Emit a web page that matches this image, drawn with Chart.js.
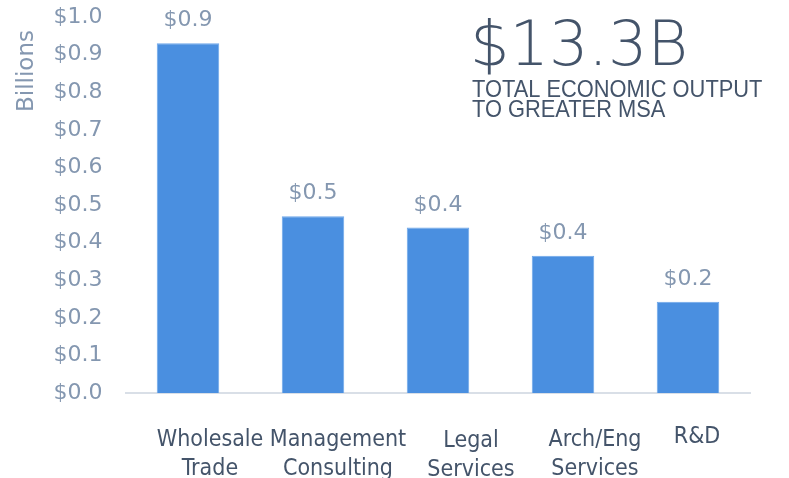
<!DOCTYPE html>
<html>
<head>
<meta charset="utf-8">
<script src="https://cdn.jsdelivr.net/npm/chart.js@4.4.1/dist/chart.umd.min.js"></script>
<style>
  html, body { margin: 0; padding: 0; background: #fff; }
  #wrap { width: 789px; height: 478px; }
</style>
</head>
<body>
<div id="wrap"><canvas id="grafico" width="789" height="478"></canvas></div>
<script>
// dados do gráfico
const categorias = [['Wholesale', 'Trade'], ['Management', 'Consulting'], ['Legal', 'Services'], ['Arch/Eng', 'Services'], ['R&D']];
const valores = [0.93, 0.47, 0.44, 0.365, 0.243];
const yTicks = [0, 0.1, 0.2, 0.3, 0.4, 0.5, 0.6, 0.7, 0.8, 0.9, 1.0];
const tituloY = 'Billions';
const destaque = '$13.3B';
const destaqueTexto = ['TOTAL ECONOMIC OUTPUT', 'TO GREATER MSA'];

// pequenos ajustes de posição dos rótulos do eixo X [dx, dy]
const ajusteRotulos = [[22, 0], [25, 0], [33, 1], [32, 0], [9, -3]];

const corEscura = '#44546a';
const corClara = '#8497b0';

document.addEventListener('DOMContentLoaded', function() {
    const ctx = document.getElementById('grafico').getContext('2d');

    // rótulos das categorias desenhados à mão (deslocados como no original)
    const rotulosX = {
        id: 'rotulosX',
        afterDraw: (chart) => {
            const c = chart.ctx;
            const x = chart.scales.x;
            c.save();
            c.font = '23px "DejaVu Sans Condensed", "DejaVu Sans", sans-serif';
            c.fillStyle = corEscura;
            c.textAlign = 'center';
            c.textBaseline = 'alphabetic';
            categorias.forEach((linhas, i) => {
                const px = x.getPixelForValue(i) + ajusteRotulos[i][0];
                const base = x.top + 53 + ajusteRotulos[i][1];
                linhas.forEach((t, j) => c.fillText(t, px, base + j * 29));
            });
            c.restore();
        }
    };

    // título do eixo Y ("Billions"), perto do topo
    const tituloEixoY = {
        id: 'tituloEixoY',
        afterDraw: (chart) => {
            const c = chart.ctx;
            c.save();
            c.translate(27.5, chart.chartArea.top + 95);
            c.rotate(-Math.PI / 2);
            c.font = '23px "DejaVu Sans", sans-serif';
            c.fillStyle = corClara;
            c.textAlign = 'left';
            c.textBaseline = 'middle';
            c.fillText(tituloY, 0, 0);
            c.restore();
        }
    };

    // valores acima das barras
    const rotulosValores = {
        id: 'rotulosValores',
        afterDatasetsDraw: (chart) => {
            const c = chart.ctx;
            const meta = chart.getDatasetMeta(0);
            c.save();
            c.font = '22px "DejaVu Sans", sans-serif';
            c.fillStyle = corClara;
            c.textAlign = 'center';
            c.textBaseline = 'alphabetic';
            meta.data.forEach((bar, i) => {
                c.fillText('$' + valores[i].toFixed(1), bar.x, bar.y - 17);
            });
            c.restore();
        }
    };

    // texto de destaque no canto superior direito
    const destaquePlugin = {
        id: 'destaque',
        afterDraw: (chart) => {
            const c = chart.ctx;
            c.save();
            c.fillStyle = corEscura;
            c.textAlign = 'left';
            c.textBaseline = 'alphabetic';
            c.font = '200 62px "DejaVu Sans", sans-serif';
            c.fillText(destaque, 470, 65);
            // texto menor, um pouco condensado
            c.translate(472, 0);
            c.scale(0.91, 1);
            c.font = '24px "Liberation Sans", Arial, sans-serif';
            destaqueTexto.forEach((t, j) => c.fillText(t, 0, 97 + j * 19.5));
            c.restore();
        }
    };

    new Chart(ctx, {
        type: 'bar',
        data: {
            labels: categorias,
            datasets: [{
                data: valores,
                backgroundColor: '#4a8fe0',
                borderColor: '#6ea6ea',
                borderWidth: 1,
                barPercentage: 0.5,
                categoryPercentage: 1.0
            }]
        },
        options: {
            responsive: false,
            animation: false,
            layout: {
                padding: { top: 17, right: 38.5, bottom: 0, left: 0 }
            },
            plugins: {
                legend: { display: false },
                tooltip: { enabled: false }
            },
            scales: {
                x: {
                    grid: { display: false, drawTicks: false },
                    border: { display: true, color: '#d9dfe7', width: 2 },
                    ticks: { display: false },
                    afterFit: (scale) => { scale.height = 85; }
                },
                y: {
                    min: 0,
                    max: 1.0,
                    afterBuildTicks: (scale) => {
                        scale.ticks = yTicks.map(v => ({ value: v }));
                    },
                    grid: { display: false, drawTicks: false },
                    border: { display: false },
                    ticks: {
                        color: corClara,
                        padding: 23,
                        font: { family: '"DejaVu Sans", sans-serif', size: 22 },
                        callback: (v) => '$' + Number(v).toFixed(1)
                    },
                    afterFit: (scale) => {
                        scale.width = 125.5;
                        scale.paddingTop = 0;
                        scale.paddingBottom = 0;
                    }
                }
            }
        },
        plugins: [rotulosValores, rotulosX, tituloEixoY, destaquePlugin]
    });
});
</script>
</body>
</html>
